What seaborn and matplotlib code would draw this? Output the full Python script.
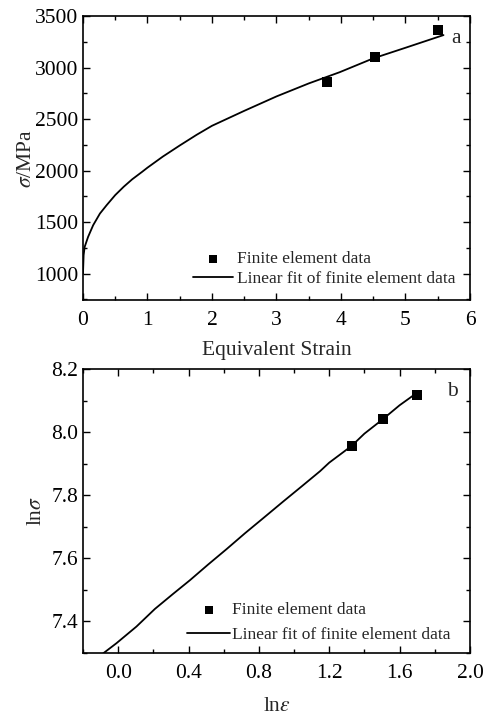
import numpy as np
import pandas as pd
import matplotlib
matplotlib.use("Agg")
import matplotlib.pyplot as plt
import matplotlib.ticker as mticker
import seaborn as sns

# ---- data (panel a) ----
fe_strain = [3.78, 4.53, 5.51]
fe_stress = [2860, 3105, 3360]
fit_strain = [0.0, 0.01, 0.026, 0.079, 0.158, 0.263, 0.368, 0.5, 0.632, 0.763,
              0.92, 1.0, 1.237, 1.5, 1.763, 2.0, 2.5, 3.0, 3.5, 3.98, 4.5, 5.0, 5.59]
fit_stress = [1000, 1180, 1260, 1357, 1471, 1584, 1666, 1763, 1844, 1916,
              1990, 2029, 2136, 2244, 2348, 2435, 2580, 2720, 2846, 2955, 3089, 3192, 3315]

# ---- data (panel b) ----
fe_ln_eps = [1.327, 1.503, 1.697]
fe_ln_sig = [7.956, 8.040, 8.119]
fit_ln_eps = [-0.085, -0.01, 0.104, 0.209, 0.313, 0.408, 0.512, 0.617, 0.721, 0.825,
              0.939, 1.044, 1.148, 1.2, 1.327, 1.4, 1.503, 1.6, 1.7]
fit_ln_sig = [7.298, 7.33, 7.383, 7.439, 7.487, 7.53, 7.58, 7.629, 7.679, 7.727,
              7.78, 7.828, 7.876, 7.903, 7.956, 7.995, 8.04, 8.085, 8.125]

sns.set_style("ticks")
plt.rcParams['font.family'] = ['Liberation Serif', 'DejaVu Serif']
plt.rcParams['mathtext.fontset'] = 'stix'
plt.rcParams['xtick.direction'] = 'in'
plt.rcParams['ytick.direction'] = 'in'

fig = plt.figure(figsize=(4.83, 7.15), dpi=100)
ax1 = fig.add_axes([0.1718, 0.5804, 0.8012, 0.3972])
ax2 = fig.add_axes([0.1718, 0.0871, 0.8012, 0.3968])

TICK_FS = 15.5
LEG_FS = 12.5

def style(ax):
    for s in ax.spines.values():
        s.set_linewidth(1.2)
        s.set_color('black')
    ax.tick_params(which='both', top=True, right=True, labeltop=False, labelright=False,
                   colors='black', labelsize=TICK_FS, width=1.0)
    ax.tick_params(which='major', length=5)
    ax.tick_params(which='minor', length=3)
    ax.tick_params(axis='x', which='major', pad=8)

# panel a
df_fit_a = pd.DataFrame({'x': fit_strain, 'y': fit_stress})
df_fe_a = pd.DataFrame({'x': fe_strain, 'y': fe_stress})
sns.scatterplot(data=df_fe_a, x='x', y='y', ax=ax1, marker='s', s=55, color='black',
                edgecolor='black', linewidth=0, label='Finite element data', zorder=3)
sns.lineplot(data=df_fit_a, x='x', y='y', ax=ax1, color='black', lw=1.3,
             label='Linear fit of finite element data')
ax1.set_xlim(0, 6)
ax1.set_ylim(745, 3500)
ax1.set_xticks([0, 1, 2, 3, 4, 5, 6])
ax1.set_yticks([1000, 1500, 2000, 2500, 3000, 3500])
ax1.xaxis.set_minor_locator(mticker.MultipleLocator(0.5))
ax1.yaxis.set_minor_locator(mticker.MultipleLocator(250))
style(ax1)
ax1.set_xlabel('Equivalent Strain', fontsize=TICK_FS, labelpad=8)
ax1.set_ylabel(r'$\sigma$/MPa', fontsize=TICK_FS, labelpad=-1)
ax1.text(0.965, 0.92, 'a', transform=ax1.transAxes, fontsize=TICK_FS, ha='center', va='center')
ax1.legend(loc='upper left', frameon=False, fontsize=LEG_FS, handlelength=2.3,
           handletextpad=0.25, borderpad=0, borderaxespad=0, labelspacing=0.2,
           markerscale=0.8, bbox_to_anchor=(0.284, 0.172))

# panel b
df_fit_b = pd.DataFrame({'x': fit_ln_eps, 'y': fit_ln_sig})
df_fe_b = pd.DataFrame({'x': fe_ln_eps, 'y': fe_ln_sig})
sns.scatterplot(data=df_fe_b, x='x', y='y', ax=ax2, marker='s', s=55, color='black',
                edgecolor='black', linewidth=0, label='Finite element data', zorder=3)
sns.lineplot(data=df_fit_b, x='x', y='y', ax=ax2, color='black', lw=1.3,
             label='Linear fit of finite element data')
ax2.set_xlim(-0.2, 2.0)
ax2.set_ylim(7.3, 8.2)
ax2.set_xticks([0.0, 0.4, 0.8, 1.2, 1.6, 2.0])
ax2.set_yticks([7.4, 7.6, 7.8, 8.0, 8.2])
ax2.xaxis.set_major_formatter(mticker.FormatStrFormatter('%.1f'))
ax2.yaxis.set_major_formatter(mticker.FormatStrFormatter('%.1f'))
ax2.xaxis.set_minor_locator(mticker.MultipleLocator(0.2))
ax2.yaxis.set_minor_locator(mticker.MultipleLocator(0.1))
style(ax2)
ax2.set_xlabel(r'ln$\varepsilon$', fontsize=TICK_FS, labelpad=10)
ax2.set_ylabel(r'ln$\sigma$', fontsize=TICK_FS, labelpad=4)
ax2.text(0.955, 0.92, 'b', transform=ax2.transAxes, fontsize=TICK_FS, ha='center', va='center')
ax2.legend(loc='upper left', frameon=False, fontsize=LEG_FS, handlelength=2.5,
           handletextpad=0.1, borderpad=0, borderaxespad=0, labelspacing=0.5,
           markerscale=0.8, bbox_to_anchor=(0.269, 0.179))

fig.savefig('out.png', dpi=100)
